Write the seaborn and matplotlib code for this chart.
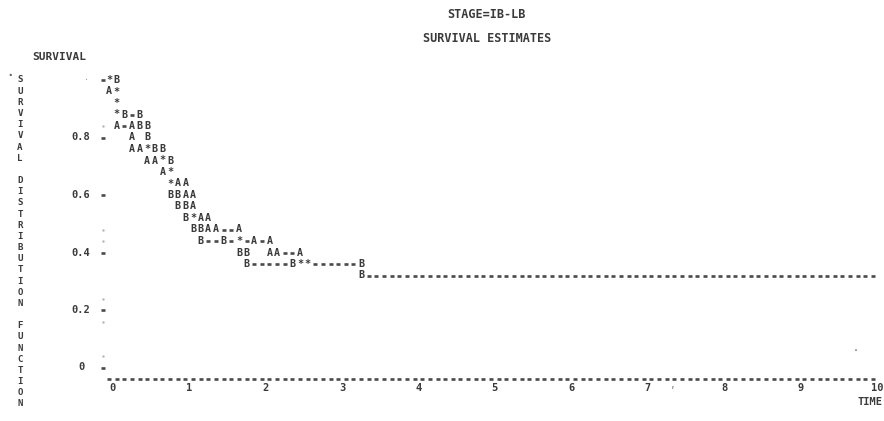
"""
Line-printer style survival plot (STAGE=IB-LB), redrawn with seaborn.
One printer column = 0.1 time units, one printer line = 0.04 survival.
"""

import matplotlib
matplotlib.use("Agg")
import matplotlib.pyplot as plt
import numpy as np
import pandas as pd
import seaborn as sns

# group A points
a_time = [0.0, 0.1, 0.3, 0.3, 0.3, 0.4, 0.5, 0.6, 0.7, 0.9, 1.0, 1.0,
          1.1, 1.1, 1.2, 1.3, 1.3, 1.4, 1.7, 1.9, 2.1, 2.1, 2.2, 2.5]
a_surv = [0.96, 0.84, 0.84, 0.80, 0.76, 0.76, 0.72, 0.72, 0.68, 0.64, 0.64, 0.60,
          0.60, 0.56, 0.52, 0.52, 0.48, 0.48, 0.48, 0.44, 0.44, 0.40, 0.40, 0.40]

# group B points
b_time = [0.1, 0.2, 0.4, 0.4, 0.5, 0.5, 0.6, 0.7, 0.8, 0.8, 0.9, 0.9,
          1.0, 1.0, 1.1, 1.2, 1.2, 1.5, 1.7, 1.8, 1.8, 2.4, 3.3, 3.3]
b_surv = [1.00, 0.88, 0.88, 0.84, 0.84, 0.80, 0.76, 0.76, 0.72, 0.60, 0.60, 0.56,
          0.56, 0.52, 0.48, 0.48, 0.44, 0.44, 0.40, 0.40, 0.36, 0.36, 0.36, 0.32]

# both groups on the same print position
both_time = [0.0, 0.1, 0.1, 0.1, 0.5, 0.7, 0.8, 0.8, 1.1, 1.7, 2.5, 2.6]
both_surv = [1.00, 0.96, 0.92, 0.88, 0.76, 0.72, 0.68, 0.64, 0.52, 0.44, 0.36, 0.36]

# connecting dash runs
dash_start = [0.3, 0.2, 1.5, 1.3, 1.6, 1.8, 2.0, 2.3, 1.9, 2.7, 3.4]
dash_end = [0.3, 0.2, 1.6, 1.4, 1.6, 1.8, 2.0, 2.4, 2.3, 3.2, 10.0]
dash_surv = [0.88, 0.84, 0.48, 0.44, 0.44, 0.44, 0.44, 0.40, 0.36, 0.36, 0.32]

x_ticks = list(range(11))
y_ticks = [0.8, 0.6, 0.4, 0.2, 0.0]
y_tick_labels = ["0.8", "0.6", "0.4", "0.2", "0"]

INK = "#3a3a3a"
MONO = "DejaVu Sans Mono"
W, H = 884, 421

sns.set_theme(style="white")
plt.rcParams["font.family"] = [MONO, "DejaVu Sans"]

fig = plt.figure(figsize=(W / 100, H / 100), dpi=100)
ax = fig.add_axes([0, 0, 1, 1])

# pixel calibration: t=0 at x=109, 76.4 px per time unit;
# S=1 at y=80 from top, 287.5 px per unit survival
ax.set_xlim(-109 / 76.4, (W - 109) / 76.4)
ax.set_ylim(-53.5 / 287.5, (H - 53.5) / 287.5)
ax.axis("off")

# dashes: connector runs, the printed x axis and y tick marks
rows = []
for s, e, y in zip(dash_start, dash_end, dash_surv):
    for t in np.round(np.arange(s, e + 0.05, 0.1), 1):
        rows.append((t, y))
for t in np.round(np.arange(0, 10.05, 0.1), 1):
    rows.append((t, -0.04))
for y in [1.0] + y_ticks:
    rows.append((-0.08, y))
dashes = pd.DataFrame(rows, columns=["time", "surv"])
sns.scatterplot(data=dashes, x="time", y="surv", marker="_", s=8,
                linewidth=1.9, color="#4a4a4a", ax=ax, legend=False)

# faint remains of the printed y axis
axis_dots = pd.DataFrame({"time": -0.08,
                          "surv": [1 - 0.04 * r for r in [4, 13, 14, 19, 21, 24]]})
sns.scatterplot(data=axis_dots, x="time", y="surv", s=3, color="#b5b5b5",
                linewidth=0, ax=ax, legend=False)

for label, xs, ys in [("A", a_time, a_surv), ("B", b_time, b_surv),
                      ("*", both_time, both_surv)]:
    for t, y in zip(xs, ys):
        ax.text(t, y, label, ha="center", va="center", fontsize=7.2,
                fontweight="bold", color=INK, family=MONO)

for y, lab in zip(y_ticks, y_tick_labels):
    ax.text(-0.366, y, lab, ha="center", va="center", fontsize=7.5,
            fontweight="bold", color=INK, family=MONO)

for t in x_ticks:
    ax.text(t + 0.05, -0.071, str(t), ha="center", va="center", fontsize=7.5,
            fontweight="bold", color=INK, family=MONO)

# header, labels and the vertical axis title
txt = dict(fontweight="bold", color=INK, family=MONO)
fig.text(486 / W, 1 - 15 / H, "STAGE=IB-LB", ha="center", va="center",
         fontsize=8.5, **txt)
fig.text(487 / W, 1 - 38 / H, "SURVIVAL ESTIMATES", ha="center", va="center",
         fontsize=8.5, **txt)
fig.text(32 / W, 1 - 57 / H, "SURVIVAL", ha="left", va="center",
         fontsize=8, **txt)
fig.text(883 / W, 1 - 402 / H, "TIME", ha="right", va="center",
         fontsize=7.5, **txt)
for i, ch in enumerate("SURVIVAL DISTRIBUTION FUNCTION"):
    fig.text(20 / W, 1 - (80 + i * 11.17) / H, ch, ha="center", va="center",
             fontsize=6.6, **txt)

# specks on the scan
fig.text(10 / W, 1 - 72 / H, ".", ha="center", va="center", fontsize=9,
         fontweight="bold", color="#666666")
fig.text(87 / W, 1 - 78 / H, ".", ha="center", va="center", fontsize=6,
         color="#999999")
fig.text(856 / W, 1 - 348 / H, ".", ha="center", va="center", fontsize=7,
         color="#666666")
fig.text(672 / W, 1 - 385 / H, ",", ha="center", va="center", fontsize=7,
         color="#888888")

fig.savefig("out.png", dpi=100)
